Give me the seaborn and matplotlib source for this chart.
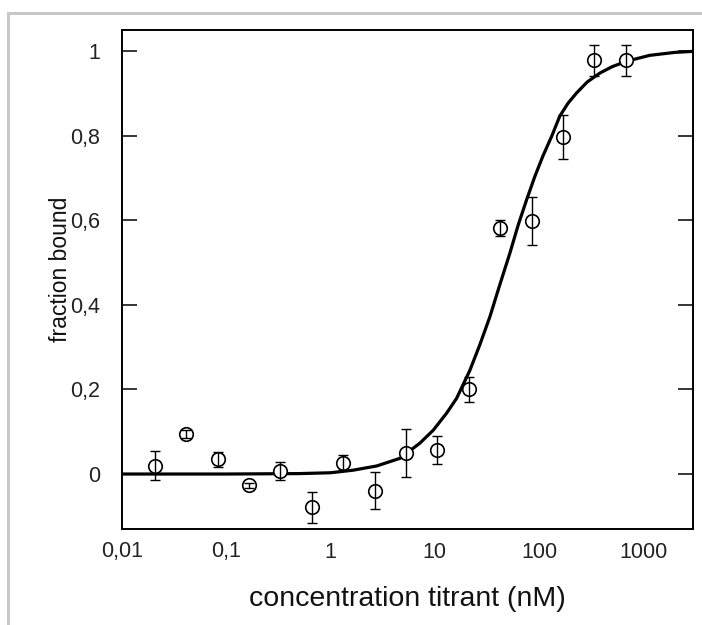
import matplotlib
matplotlib.use("Agg")
import matplotlib.pyplot as plt
import seaborn as sns
import pandas as pd
from matplotlib.patches import Rectangle
from matplotlib.ticker import FixedLocator, FixedFormatter, NullLocator

# ---- data ----
conc_nM = [0.0207, 0.0414, 0.0828, 0.166, 0.331, 0.662, 1.32, 2.65,
           5.30, 10.6, 21.2, 42.4, 84.8, 170, 339, 678]
fraction = [0.020, 0.095, 0.035, -0.027, 0.007, -0.079, 0.027, -0.039,
            0.049, 0.057, 0.200, 0.582, 0.599, 0.798, 0.978, 0.978]
fraction_err = [0.035, 0.010, 0.018, 0.005, 0.022, 0.037, 0.018, 0.043,
                0.057, 0.033, 0.030, 0.018, 0.057, 0.052, 0.036, 0.036]

fit_x = [0.01, 0.1, 0.5, 1.0, 1.64, 2.77, 4.62, 7.2, 9.7, 13.0, 16.2, 21.7,
         27.0, 33.8, 42.0, 52.5, 63.0, 75.9, 91.0, 109, 133, 158, 190, 229,
         290, 383, 500, 690, 1150, 2000, 3000]
fit_y = [0.0, 0.0, 0.001, 0.003, 0.009, 0.019, 0.037, 0.073, 0.104, 0.144,
         0.179, 0.245, 0.305, 0.372, 0.447, 0.522, 0.588, 0.648, 0.703,
         0.752, 0.800, 0.846, 0.877, 0.901, 0.927, 0.948, 0.963, 0.976,
         0.990, 0.997, 0.9995]

x_ticks = [0.01, 0.1, 1, 10, 100, 1000]
x_ticklabels = ["0,01", "0,1", "1", "10", "100", "1000"]
y_ticks = [0, 0.2, 0.4, 0.6, 0.8, 1.0]
y_ticklabels = ["0", "0,2", "0,4", "0,6", "0,8", "1"]

sns.set_style("white")
plt.rcParams["font.family"] = ["Liberation Sans", "DejaVu Sans"]

fig = plt.figure(figsize=(7.02, 6.25), dpi=100)
ax = fig.add_axes([122 / 702, 1 - 529 / 625, (693 - 122) / 702, (529 - 30) / 625])

pts = pd.DataFrame({"conc": conc_nM, "frac": fraction, "err": fraction_err})
fit = pd.DataFrame({"conc": fit_x, "frac": fit_y})

sns.lineplot(data=fit, x="conc", y="frac", ax=ax, color="black",
             linewidth=2.3, zorder=2)
sns.scatterplot(data=pts, x="conc", y="frac", ax=ax, marker="o", s=95,
                facecolor="white", edgecolor="black", linewidth=1.2, zorder=3)
ax.errorbar(pts["conc"], pts["frac"], yerr=pts["err"], fmt="none",
            ecolor="black", elinewidth=1.0, capsize=3.5, capthick=1.0, zorder=4)

ax.set_xscale("log")
ax.set_xlim(0.01, 3000)
ax.set_ylim(-0.13, 1.05)

ax.xaxis.set_major_locator(FixedLocator(x_ticks))
ax.xaxis.set_major_formatter(FixedFormatter(x_ticklabels))
ax.xaxis.set_minor_locator(NullLocator())
ax.yaxis.set_major_locator(FixedLocator(y_ticks))
ax.yaxis.set_major_formatter(FixedFormatter(y_ticklabels))

ax.tick_params(axis="x", length=0, pad=9, labelsize=15.5, labelcolor="#222222")
ax.tick_params(axis="y", direction="in", length=11, width=1.1, left=True,
               right=True, pad=16, labelsize=15.5, labelcolor="#222222",
               color="black")

for s in ax.spines.values():
    s.set_color("black")
    s.set_linewidth(1.4)

ax.set_xlabel("concentration titrant (nM)", fontsize=20.5, color="#111111",
              labelpad=17)
ax.set_ylabel("fraction bound", fontsize=16.5, color="#111111")
ax.yaxis.set_label_coords(-0.088, 0.52)

# light frame around the picture
fig.patches.append(Rectangle((8 / 702, -0.05), 1.1, 1.05 - 13 / 625,
                             transform=fig.transFigure, fill=False,
                             edgecolor="#c8c8c8", linewidth=2.2))

fig.savefig("out.png", dpi=100)
